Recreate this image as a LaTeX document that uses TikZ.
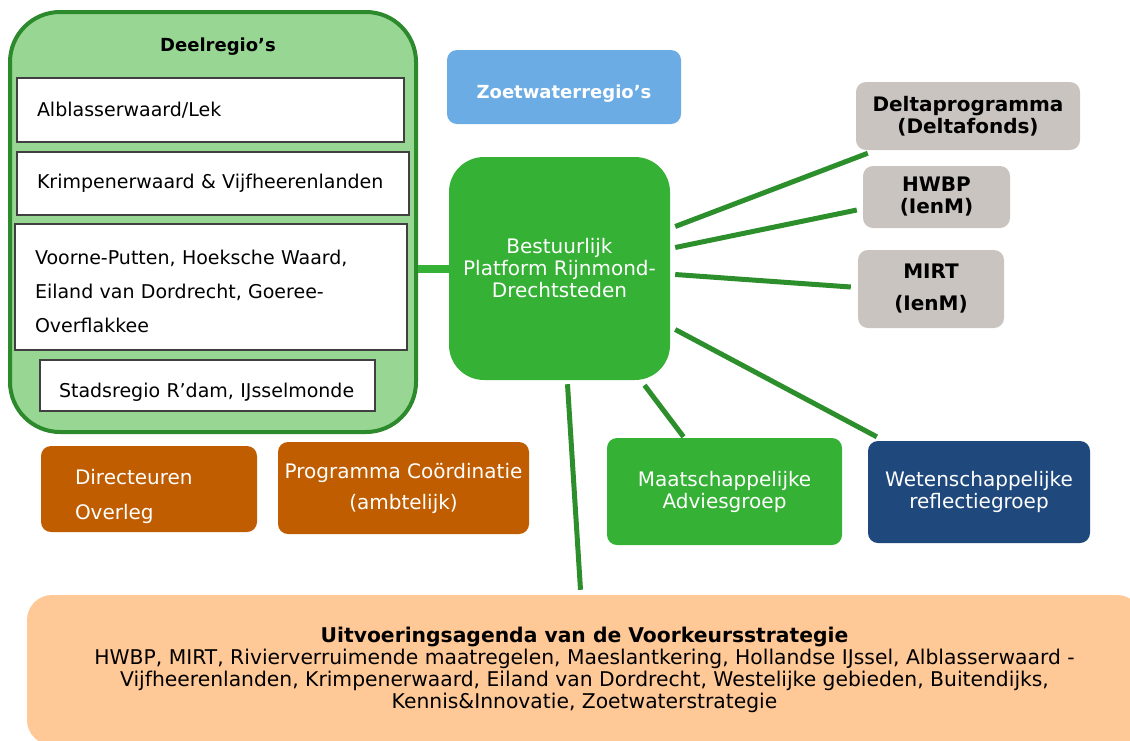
\documentclass[tikz,border=0pt]{standalone}
\usepackage{fontspec}
\setmainfont{DejaVu Sans}

\definecolor{lightgreen}{RGB}{152,214,148}
\definecolor{darkgreen}{RGB}{44,138,44}
\definecolor{platgreen}{RGB}{53,177,53}
\definecolor{linkgreen}{RGB}{44,143,44}
\definecolor{skyblue}{RGB}{108,172,228}
\definecolor{greybox}{RGB}{201,196,191}
\definecolor{rust}{RGB}{192,93,0}
\definecolor{navy}{RGB}{31,73,125}
\definecolor{peach}{RGB}{255,200,151}

\begin{document}
\begin{tikzpicture}[x=1pt, y=-1pt,
   every node/.style={font=\fontsize{20}{22}\selectfont, inner sep=0pt},
   region/.style={draw=black!75, fill=white, line width=1.2pt, align=left, inner xsep=20pt,
                  font=\fontsize{19}{22}\selectfont},
   tile/.style={rounded corners=10pt, align=center},
   grey/.style={tile, fill=greybox, font=\fontsize{20}{22}\selectfont\bfseries},
   link/.style={draw=linkgreen, line width=5pt}]

   \useasboundingbox (0,0) rectangle (1130,740);

   % deelregio's
   \node[draw=darkgreen, fill=lightgreen, line width=4pt, rounded corners=50pt,
         minimum width=406pt, minimum height=420pt] (deel) at (213,222) {};
   \node[font=\fontsize{18}{22}\selectfont\bfseries] (title) at (218,47) {Deelregio’s};
   \node[region, text width=347pt, minimum height=64pt] (alb) at (210.5,110) {Alblasserwaard/Lek};
   \node[region, text width=352pt, minimum height=63pt] (krim) at (213,183.5) {Krimpenerwaard \& Vijfheerenlanden};
   \node[region, text width=352pt, minimum height=126pt, font=\fontsize{19}{34}\selectfont]
        (voor) at (211,287) {\rule{0pt}{22.5pt}Voorne-Putten, Hoeksche Waard,\\Eiland van Dordrecht, Goeree-\\Overflakkee};
   \node[region, text width=297pt, inner xsep=19pt, minimum height=51pt] (stad) at (207.5,385.5)
        {\rule{0pt}{28pt}Stadsregio R’dam, IJsselmonde};

   % platform
   \node[tile, fill=skyblue, text=white, font=\fontsize{18}{22}\selectfont\bfseries,
         minimum width=234pt, minimum height=74pt] (zoet) at (564,87) {\rule{0pt}{27.5pt}Zoetwaterregio’s};
   \node[tile, rounded corners=35pt, fill=platgreen, text=white,
         minimum width=221pt, minimum height=223pt] (plat) at (559.5,268.5) {Bestuurlijk\\Platform Rijnmond-\\Drechtsteden};

   \node[grey, minimum width=224pt, minimum height=68pt] (delta) at (968,116) {Deltaprogramma\\(Deltafonds)};
   \node[grey, minimum width=147pt, minimum height=62pt] (hwbp) at (936.5,197) {HWBP\\(IenM)};
   \node[grey, minimum width=146pt, minimum height=78pt, font=\fontsize{20}{32}\selectfont\bfseries]
        (mirt) at (931,289) {MIRT\\(IenM)};

   % overleg en groepen
   \node[tile, fill=rust, text=white, align=left, text width=148pt, inner xsep=34pt, minimum height=86pt,
         font=\fontsize{20}{35}\selectfont] (dir) at (149,489) {\rule{0pt}{30pt}Directeuren\\Overleg};
   \node[tile, fill=rust, text=white, minimum width=251pt, minimum height=92pt,
         font=\fontsize{20}{31}\selectfont] (prog) at (403.5,488) {Programma Coördinatie\\(ambtelijk)};
   \node[tile, fill=platgreen, text=white, minimum width=235pt, minimum height=107pt] (maat) at (724.5,491.5) {Maatschappelijke\\Adviesgroep};
   \node[tile, fill=navy, text=white, minimum width=222pt, minimum height=102pt] (weten) at (979,492) {Wetenschappelijke\\reflectiegroep};

   \node[tile, rounded corners=25pt, fill=peach, minimum width=1115pt, minimum height=150pt,
         font=\fontsize{20.3}{22}\selectfont] (uitv) at (584.5,670)
        {\textbf{Uitvoeringsagenda van de Voorkeursstrategie}\\HWBP, MIRT, Rivierverruimende maatregelen, Maeslantkering, Hollandse IJssel, Alblasserwaard -\\Vijfheerenlanden, Krimpenerwaard, Eiland van Dordrecht, Westelijke gebieden, Buitendijks,\\Kennis\&Innovatie, Zoetwaterstrategie};

   % verbindingen
   \draw[platgreen, line width=8pt] (plat.west -| deel.east) -- (plat.west);
   \draw[link] ([xshift=5pt,yshift=42pt]plat.east) -- ([xshift=12pt,yshift=-3pt]delta.south west);
   \draw[link] ([xshift=5pt,yshift=21pt]plat.east) -- ([xshift=-6pt,yshift=-13pt]hwbp.west);
   \draw[link] ([xshift=5pt,yshift=-6pt]plat.east) -- ([xshift=-7pt,yshift=2pt]mirt.west);
   \draw[link] ([xshift=5pt,yshift=-61pt]plat.east) -- ([xshift=9pt,yshift=4pt]weten.north west);
   \draw[link] ([xshift=85pt,yshift=-5pt]plat.south) -- ([xshift=-41pt,yshift=1pt]maat.north);
   \draw[link] ([xshift=8pt,yshift=-4pt]plat.south) -- ([xshift=-4pt,yshift=5pt]uitv.north);
\end{tikzpicture}
\end{document}
